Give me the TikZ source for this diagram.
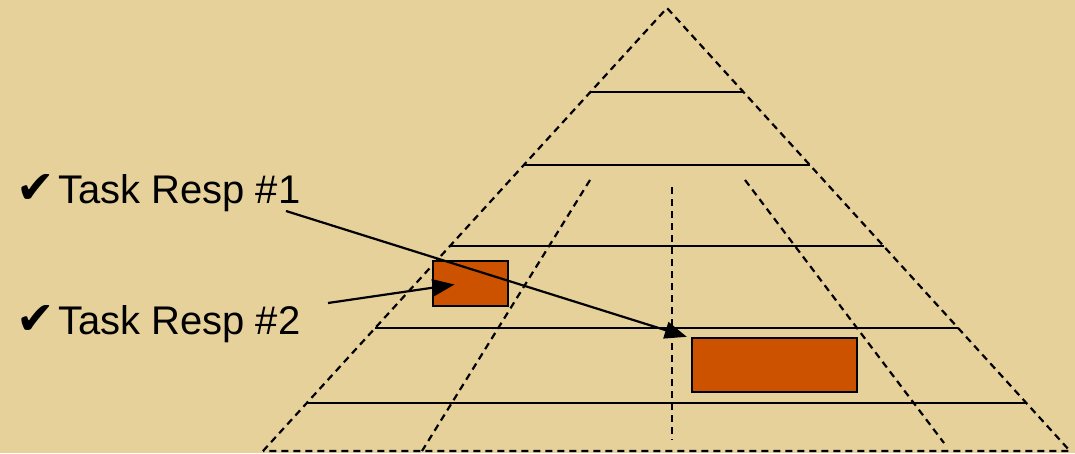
\documentclass[tikz,border=0pt]{standalone}
\usepackage{fontspec}
\setmainfont{Liberation Sans}
\newfontfamily\checkfont{DejaVu Sans}
\usetikzlibrary{arrows.meta,calc}
\definecolor{parch}{HTML}{E6D19B}
\definecolor{burnt}{HTML}{CC5200}
\newcommand{\tick}{\makebox[42pt][l]{\checkfont\fontsize{46}{48}\selectfont ✔}}

\begin{document}
\begin{tikzpicture}[x=1pt,y=-1pt,line width=2.2pt,
  guide/.style={dash pattern=on 7pt off 5pt},
  tier/.style={line width=2.4pt},
  task/.style={draw,fill=burnt,line width=2.4pt,inner sep=0pt},
  resp/.style={anchor=base west,inner sep=0pt,font=\fontsize{40}{42}\selectfont},
  tip/.style={-{Triangle[length=22pt,width=17pt]}}]
\fill[parch](0,0)rectangle(1075,453);
\useasboundingbox(0,0)rectangle(1075,453);
% pyramid outline
\coordinate(top)at(667,8);
\coordinate(bl)at(263,451);
\coordinate(br)at(1070,451);
\draw[guide](bl)--(top)--(br)--cycle;
% tiers
\foreach \y in {92,165,246,328,403}
  \draw[tier]($(top)!{(\y-8)/443}!(bl)$)--($(top)!{(\y-8)/443}!(br)$);
% inner guides
\draw[guide](590,180)--(422,451);
\draw[guide](672,187)--(672,440);
\draw[guide](745,180)--(944,443);
% tasks
\node[task,minimum width=75,minimum height=45](rA)at(470.5,283.5){};
\node[task,minimum width=165,minimum height=54](rB)at(774.5,365){};
\node[resp](r1)at(15,203){\tick Task Resp \#1};
\node[resp](r2)at(15,334){\tick Task Resp \#2};
\coordinate(s1)at(286,211);
\coordinate(s2)at(328,303);
\draw[tip](s1)--([xshift=-4pt]rB.north west);
\draw[tip](s2)--([xshift=-16pt,yshift=-1pt]rA.center);
\end{tikzpicture}
\end{document}
